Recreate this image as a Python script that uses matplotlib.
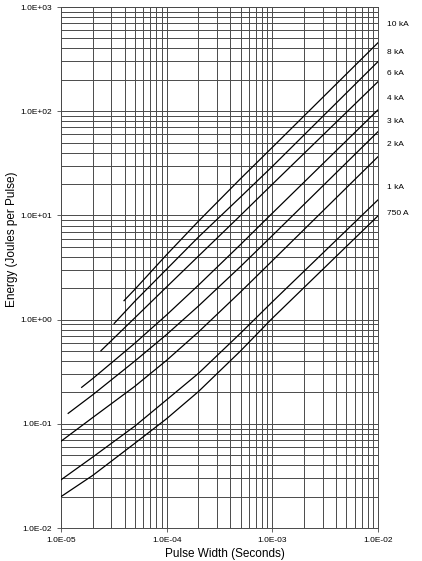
import matplotlib
matplotlib.use("Agg")
import matplotlib.pyplot as plt
import numpy as np

plt.rcParams["font.family"] = ["Liberation Sans", "DejaVu Sans"]

# pulse energy curves (seconds, joules)
x_10ka = [3.95e-5, 5e-5, 1e-4, 2e-4, 5e-4, 1e-3, 1e-2]
y_10ka = [1.52, 1.95, 4.2, 8.8, 22.5, 45, 454]

x_8ka = [3.19e-5, 5e-5, 1e-4, 2e-4, 5e-4, 1e-3, 1e-2]
y_8ka = [0.92, 1.5, 3.05, 6.2, 15.0, 29.5, 299]

x_6ka = [2.39e-5, 5e-5, 1e-4, 2e-4, 5e-4, 1e-3, 1e-2]
y_6ka = [0.503, 1.04, 2.06, 4.07, 10.0, 19.9, 192]

x_4ka = [1.57e-5, 2e-5, 5e-5, 1e-4, 2e-4, 5e-4, 1e-3, 1e-2]
y_4ka = [0.224, 0.272, 0.593, 1.11, 2.14, 5.25, 10.5, 103]

x_3ka = [1.17e-5, 2e-5, 5e-5, 1e-4, 2e-4, 5e-4, 1e-3, 1e-2]
y_3ka = [0.126, 0.19, 0.40, 0.72, 1.35, 3.23, 6.4, 63.6]

x_2ka = [1e-5, 2e-5, 5e-5, 1e-4, 2e-4, 5e-4, 1e-3, 1e-2]
y_2ka = [0.068, 0.115, 0.229, 0.407, 0.76, 1.84, 3.67, 36.6]

x_1ka = [1e-5, 2e-5, 5e-5, 1e-4, 2e-4, 5e-4, 1e-3, 1e-2]
y_1ka = [0.029, 0.048, 0.095, 0.17, 0.305, 0.74, 1.48, 14.1]

x_750a = [1e-5, 2e-5, 5e-5, 1e-4, 2e-4, 5e-4, 1e-3, 1e-2]
y_750a = [0.020, 0.032, 0.065, 0.112, 0.204, 0.50, 1.03, 9.9]

curve_labels = ["10 kA", "8 kA", "6 kA", "4 kA", "3 kA", "2 kA", "1 kA", "750 A"]
label_y = [687, 370, 228, 131, 80.5, 48.4, 18.7, 10.5]

x_ticks = [1e-5, 1e-4, 1e-3, 1e-2]
x_ticklabels = ["1.0E-05", "1.0E-04", "1.0E-03", "1.0E-02"]
y_ticks = [1e-2, 1e-1, 1e0, 1e1, 1e2, 1e3]
y_ticklabels = ["1.0E-02", "1.0E-01", "1.0E+00", "1.0E+01", "1.0E+02", "1.0E+03"]

curves = [
    (x_10ka, y_10ka),
    (x_8ka, y_8ka),
    (x_6ka, y_6ka),
    (x_4ka, y_4ka),
    (x_3ka, y_3ka),
    (x_2ka, y_2ka),
    (x_1ka, y_1ka),
    (x_750a, y_750a),
]

fig = plt.figure(figsize=(4.22, 5.61), dpi=100)
ax = fig.add_axes([0.1445, 0.0588, 0.7512, 0.9287])
ax.set_xscale("log")
ax.set_yscale("log")
ax.set_xlim(1e-5, 1e-2)
ax.set_ylim(1e-2, 1e3)

# log paper grid
grid_kw = dict(color="#4a4a4a", linewidth=0.7, zorder=1)
for dec in [1e-5, 1e-4, 1e-3]:
    for m in range(2, 10):
        ax.axvline(dec * m, **grid_kw)
for dec in [1e-2, 1e-1, 1e0, 1e1, 1e2]:
    for m in range(2, 10):
        ax.axhline(dec * m, **grid_kw)
for xv in x_ticks:
    ax.axvline(xv, **grid_kw)
for yv in y_ticks:
    ax.axhline(yv, **grid_kw)

for xs, ys in curves:
    ax.plot(xs, ys, color="black", linewidth=0.9, zorder=3)

for lab, ly in zip(curve_labels, label_y):
    ax.text(1.028, ly, lab, transform=ax.get_yaxis_transform(),
            fontsize=6, va="center", ha="left")

ax.set_xticks(x_ticks)
ax.set_xticklabels(x_ticklabels)
ax.set_yticks(y_ticks)
ax.set_yticklabels(y_ticklabels)
ax.minorticks_off()
ax.tick_params(axis="both", labelsize=6, length=3, width=0.6, color="#4a4a4a")
for s in ax.spines.values():
    s.set_color("#4a4a4a")
    s.set_linewidth(0.7)

# axis titles placed where the original sheet has them
fig.text(225 / 422, 1 - 554 / 561, "Pulse Width (Seconds)", fontsize=8.5,
         ha="center", va="center")
fig.text(12 / 422, 1 - 239 / 561, "Energy (Joules per Pulse)", fontsize=8.5,
         ha="center", va="center", rotation=90)

fig.savefig("out.png", dpi=100)
